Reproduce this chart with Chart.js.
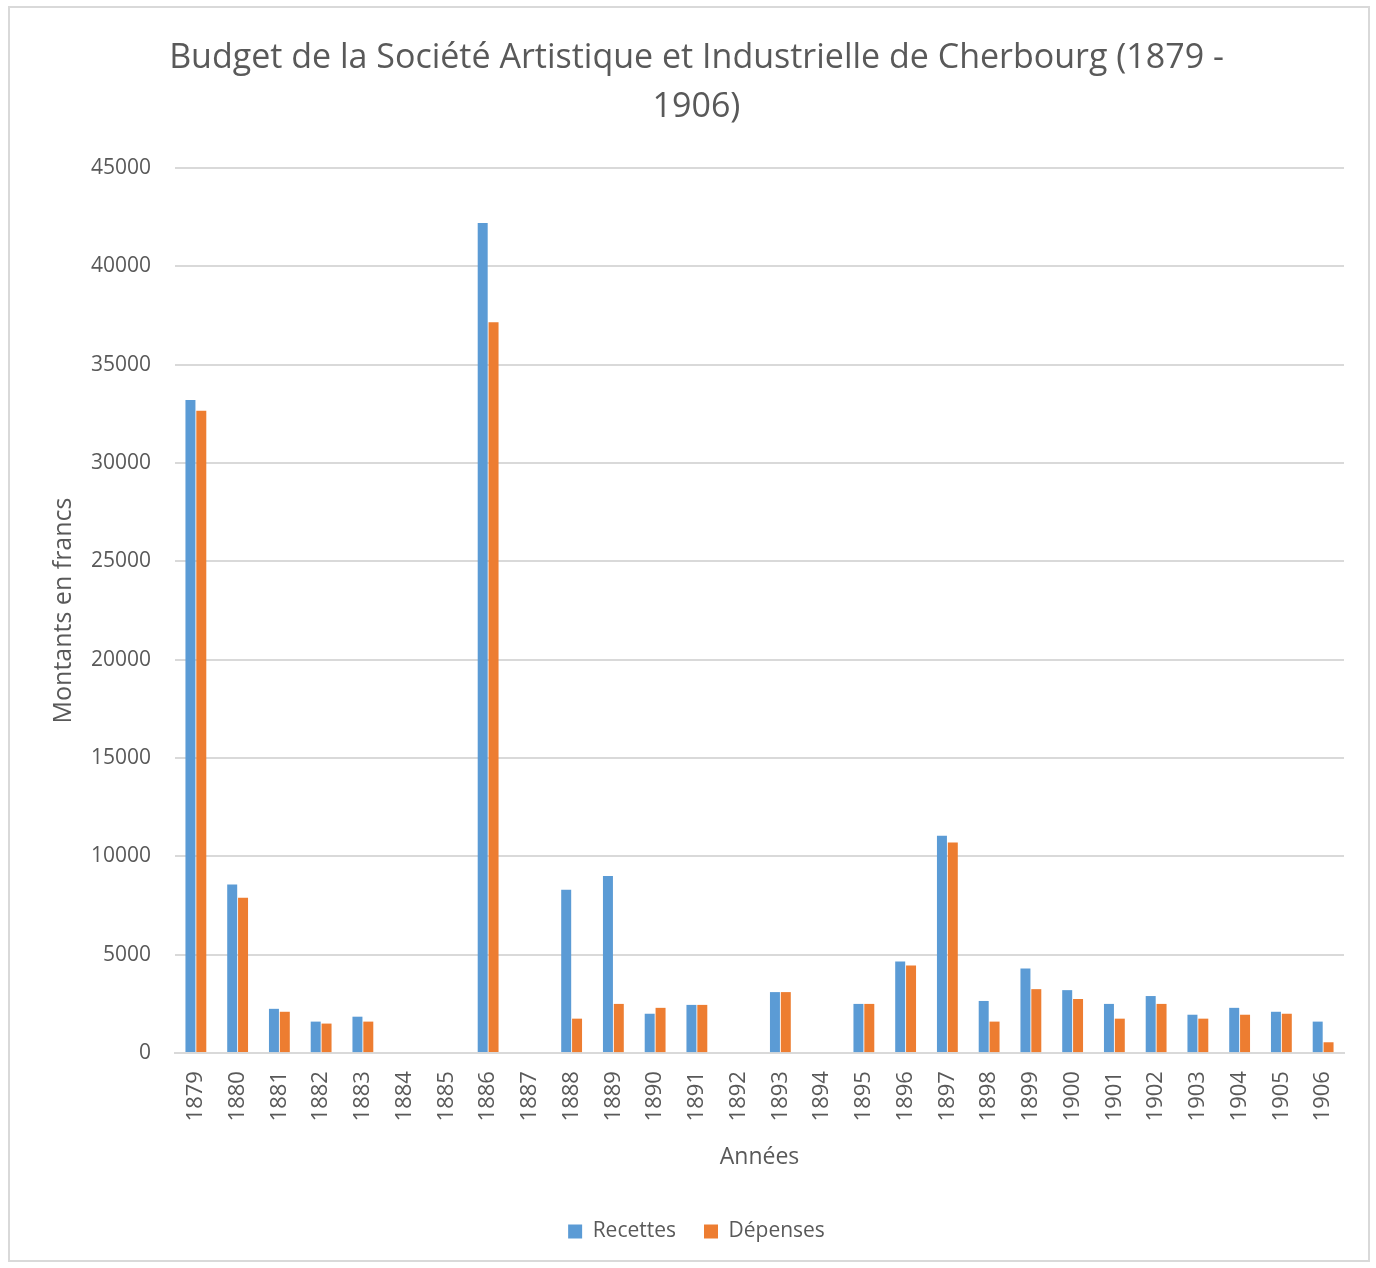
<!DOCTYPE html>
<html>
<head>
<meta charset="utf-8">
<script src="https://cdn.jsdelivr.net/npm/chart.js@4/dist/chart.umd.min.js"></script>
<style>
  html, body { margin:0; padding:0; background:#fff; }
  #frame { position:absolute; left:8px; top:6px; width:1362px; height:1256px; border:2px solid #d9d9d9; box-sizing:border-box; }
  #wrap { position:absolute; left:0; top:0; width:1376px; height:1268px; }
</style>
</head>
<body>
<div id="frame"></div>
<div id="wrap"><canvas id="chart"></canvas></div>
<script>
// ── Budget SAIC 1879-1906 ──
const YEARS = ['1879','1880','1881','1882','1883','1884','1885','1886','1887','1888','1889','1890','1891','1892',
  '1893','1894','1895','1896','1897','1898','1899','1900','1901','1902','1903','1904','1905','1906'];
const RECETTES = [33200, 8570, 2250, 1600, 1850, 0, 0, 42200, 0, 8300, 9000, 2000, 2450, 0,
  3100, 0, 2500, 4650, 11050, 2650, 4300, 3200, 2500, 2900, 1950, 2300, 2100, 1600];
const DEPENSES = [32650, 7900, 2100, 1500, 1600, 0, 0, 37150, 0, 1750, 2500, 2300, 2450, 0,
  3100, 0, 2500, 4450, 10700, 1600, 3250, 2750, 1750, 2500, 1750, 1950, 2000, 550];
const Y_TICKS = [0, 5000, 10000, 15000, 20000, 25000, 30000, 35000, 40000, 45000];

const FONT = "'Open Sans', sans-serif";
const GREY = '#595959';

new Chart(document.getElementById('chart'), {
  type:'bar',
  data:{ labels:YEARS, datasets:[
    { label:'Recettes', data:RECETTES, backgroundColor:'#5b9bd5', barPercentage:0.92, categoryPercentage:0.52 },
    { label:'Dépenses', data:DEPENSES, backgroundColor:'#ed7d31', barPercentage:0.92, categoryPercentage:0.52 }
  ]},
  options:{
    responsive:true, maintainAspectRatio:false, animation:false,
    layout:{ padding:{ left:49, right:32, top:34, bottom:16 } },
    plugins:{
      title:{ display:true, text:['Budget de la Société Artistique et Industrielle de Cherbourg (1879 -','1906)'],
        color:GREY, font:{ family:FONT, size:34, weight:'normal', lineHeight:1.44 }, padding:{ top:0, bottom:36 } },
      legend:{ position:'bottom', labels:{ color:GREY, font:{ family:FONT, size:21 }, boxWidth:14, boxHeight:14, padding:28 } },
      tooltip:{ enabled:false }
    },
    scales:{
      x:{
        grid:{ display:false, drawTicks:false },
        border:{ display:true, color:'#d9d9d9', width:2 },
        ticks:{ color:GREY, font:{ family:FONT, size:22 }, minRotation:90, maxRotation:90, padding:18 },
        title:{ display:true, text:'Années', color:GREY, font:{ family:FONT, size:23 }, padding:{ top:4, bottom:22 } }
      },
      y:{
        min:0, max:45000,
        afterBuildTicks:ax => { ax.ticks = Y_TICKS.map(v => ({ value:v })); },
        afterFit:ax => { ax.width = 126; },
        grid:{ color:'#d9d9d9', lineWidth:2, drawTicks:false },
        border:{ display:false },
        ticks:{ color:GREY, font:{ family:FONT, size:21 }, padding:24, callback:v => String(v) },
        title:{ display:true, text:'Montants en francs', color:GREY, font:{ family:FONT, size:25 }, padding:{ top:0, bottom:0 } }
      }
    }
  }
});
</script>
</body>
</html>
